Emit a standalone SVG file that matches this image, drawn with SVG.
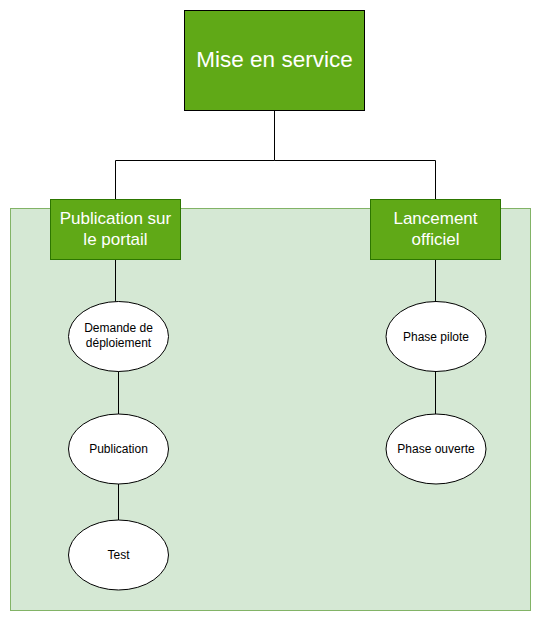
<svg xmlns="http://www.w3.org/2000/svg" width="541" height="621" viewBox="0 0 541 621">
<style>
text{font-family:"Liberation Sans",Arial,Helvetica,sans-serif;text-anchor:middle}
.box{fill:#60a917;stroke:#2d7600;stroke-width:1}
.top{fill:#60a917;stroke:#000;stroke-width:1}
.wt{fill:#fff}
.ell{fill:#fff;stroke:#000;stroke-width:1}
.et{fill:#000;font-size:12px}
.conn path{fill:none;stroke:#000;stroke-width:1}
</style>
<rect id="container" x="10.5" y="208.5" width="520" height="402" fill="#d5e8d4" stroke="#82b366" stroke-width="1"/>
<g class="conn" id="connectors">
<path d="M274.5 110.5V160.5H115.5V199.5"/>
<path d="M274.5 160.5H435.5V199.5"/>
<path d="M115.5 259.5V301.5"/>
<path d="M118.5 371V414"/>
<path d="M118.5 484V520"/>
<path d="M435.5 259.5V301.5"/>
<path d="M435.5 371V414"/>
</g>
<g id="mise-en-service">
<rect class="top" x="184.5" y="10.5" width="180" height="100"/>
<text class="wt" x="274.5" y="67" font-size="22.5">Mise en service</text>
</g>
<g id="publication-portail">
<rect class="box" x="50.5" y="199.5" width="130" height="60"/>
<text class="wt" x="115.5" y="224" font-size="17">Publication sur</text>
<text class="wt" x="115.5" y="245" font-size="17">le portail</text>
</g>
<g id="lancement-officiel">
<rect class="box" x="370.5" y="199.5" width="130" height="60"/>
<text class="wt" x="435.5" y="224" font-size="17">Lancement</text>
<text class="wt" x="435.5" y="245" font-size="17">officiel</text>
</g>
<g id="demande">
<ellipse class="ell" cx="118.5" cy="336.5" rx="50" ry="35"/>
<text class="et" x="118.5" y="332">Demande de</text>
<text class="et" x="118.5" y="347">déploiement</text>
</g>
<g id="publication">
<ellipse class="ell" cx="118.5" cy="449" rx="50" ry="35"/>
<text class="et" x="118.5" y="453">Publication</text>
</g>
<g id="test">
<ellipse class="ell" cx="118.5" cy="555" rx="50" ry="35"/>
<text class="et" x="118.5" y="559">Test</text>
</g>
<g id="phase-pilote">
<ellipse class="ell" cx="436" cy="336.5" rx="50" ry="35"/>
<text class="et" x="436" y="340.5">Phase pilote</text>
</g>
<g id="phase-ouverte">
<ellipse class="ell" cx="436" cy="449" rx="50" ry="35"/>
<text class="et" x="436" y="453">Phase ouverte</text>
</g>
</svg>
